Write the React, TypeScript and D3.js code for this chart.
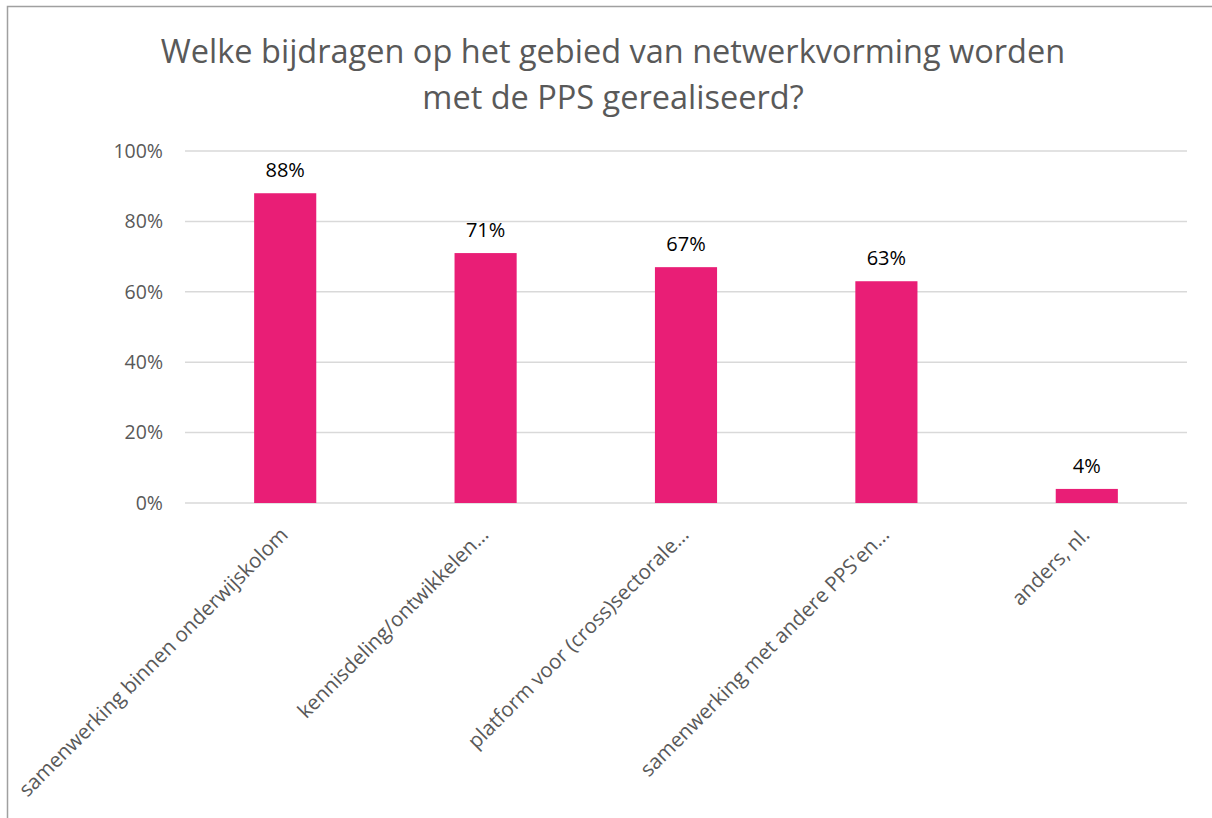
import React from "react";
import * as d3 from "d3";

const categories = [
  "samenwerking binnen onderwijskolom",
  "kennisdeling/ontwikkelen…",
  "platform voor (cross)sectorale…",
  "samenwerking met andere PPS'en…",
  "anders, nl.",
];
const values = [0.88, 0.71, 0.67, 0.63, 0.04];
const yTicks = [0, 0.2, 0.4, 0.6, 0.8, 1.0];
const titleLines = [
  "Welke bijdragen op het gebied van netwerkvorming worden",
  "met de PPS gerealiseerd?",
];

const W = 1212;
const H = 818;
const plot = { left: 185, right: 1187, top: 151, bottom: 503 };
const FONT = "'Open Sans', sans-serif";

export default function App() {
  const x = d3
    .scaleBand<string>()
    .domain(categories)
    .range([plot.left, plot.right])
    .paddingInner(0.69)
    .paddingOuter(0.345);
  const y = d3.scaleLinear().domain([0, 1]).range([plot.bottom, plot.top]);
  const fmt = d3.format(".0%");

  return (
    <svg
      width={W}
      height={H}
      style={{ position: "absolute", left: 0, top: 0, background: "#fff" }}
      fontFamily={FONT}
    >
      <rect x={7.5} y={6.5} width={W + 10} height={H + 10} fill="#fff" stroke="#a0a0a0" strokeWidth={1.5} />
      {titleLines.map((t, i) => (
        <text key={i} x={613} y={63 + i * 46} textAnchor="middle" fontSize={32.5} fill="#595959">
          {t}
        </text>
      ))}
      {yTicks.map((t) => (
        <g key={t}>
          <line x1={plot.left} x2={plot.right} y1={y(t)} y2={y(t)} stroke="#d9d9d9" strokeWidth={1.5} />
          <text x={163} y={y(t)} dy="0.35em" textAnchor="end" fontSize={19.5} fill="#595959">
            {fmt(t)}
          </text>
        </g>
      ))}
      {categories.map((c, i) => {
        const bx = x(c)!;
        const cx = bx + x.bandwidth() / 2;
        return (
          <g key={c}>
            <rect x={bx} y={y(values[i])} width={x.bandwidth()} height={y(0) - y(values[i])} fill="#e91e76" />
            <text x={cx} y={y(values[i]) - 16} textAnchor="middle" fontSize={20} fill="#000">
              {fmt(values[i])}
            </text>
            <text
              transform={`translate(${cx - 1},${plot.bottom + 28}) rotate(-45)`}
              textAnchor="end"
              dy="0.35em"
              fontSize={20.5}
              fill="#595959"
            >
              {c}
            </text>
          </g>
        );
      })}
    </svg>
  );
}
